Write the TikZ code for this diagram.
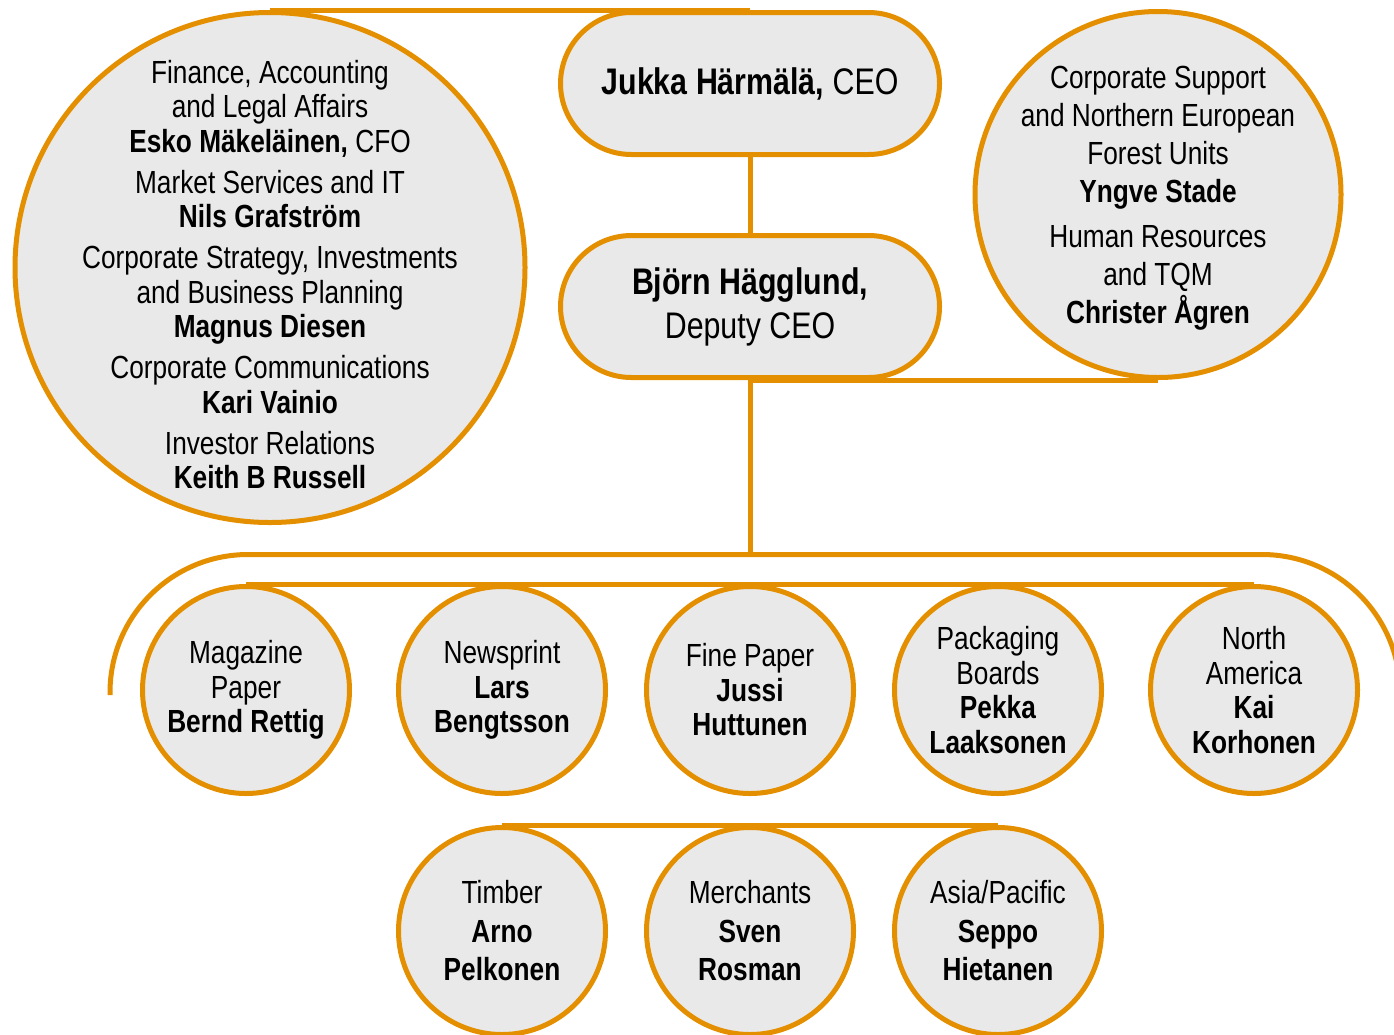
\documentclass[tikz,border=0pt]{standalone}
\usepackage{fontspec}
\setmainfont[FakeStretch=0.82]{Liberation Sans}
\usepackage{xcolor}
\usetikzlibrary{positioning,backgrounds,calc}
\definecolor{unitorange}{RGB}{228,143,0}
\definecolor{unitgray}{RGB}{233,233,233}

\begin{document}
\begin{tikzpicture}[x=1pt,y=-1pt,
    link/.style={draw=unitorange, line width=5pt},
    unit/.style={circle, draw=unitorange, fill=unitgray, line width=5pt,
        inner sep=0pt, align=center, minimum size=207pt,
        font=\fontsize{32}{34.5}\selectfont},
    unittext/.style={inner sep=0pt, align=center, font=\fontsize{32}{34.5}\selectfont},
    head/.style={rectangle, rounded corners=71pt, draw=unitorange, fill=unitgray,
        line width=5pt, inner sep=0pt, align=center, minimum width=379pt,
        minimum height=142pt, font=\fontsize{37}{44}\selectfont}]
    \useasboundingbox (0,0) rectangle (1394,1034);

    % management
    \node[head] (ceo) at (750,83.5) {\textbf{Jukka Härmälä,} CEO};
    \node[head] (deputy) at (750,306.5) {\textbf{Björn Hägglund,}\\Deputy CEO};

    % staff functions
    \node[unit, minimum size=510pt] (staff) at (270,267.5) {};
    \node[unittext] (stafftext) at ($(staff.center)+(0,7)$) {Finance, Accounting\\and Legal Affairs\\\textbf{Esko Mäkeläinen,} CFO\\[6.5pt]
        Market Services and IT\\\textbf{Nils Grafström}\\[6.5pt]
        Corporate Strategy, Investments\\and Business Planning\\\textbf{Magnus Diesen}\\[6.5pt]
        Corporate Communications\\\textbf{Kari Vainio}\\[6.5pt]
        Investor Relations\\\textbf{Keith B Russell}};
    \node[unit, minimum size=366pt] (support) at (1158,194.5) {};
    \node[unittext, font=\fontsize{32}{38}\selectfont] (supporttext) at ($(support.center)+(0,4)$)
        {Corporate Support\\and Northern European\\Forest Units\\\textbf{Yngve Stade}\\[7pt]
        Human Resources\\and TQM\\\textbf{Christer Ågren}};

    % business areas
    \foreach \name/\x/\descr in {mag/246/{Magazine\\Paper\\\textbf{Bernd Rettig}},
        news/502/{Newsprint\\\textbf{Lars}\\\textbf{Bengtsson}},
        fine/750/{Fine Paper\\\textbf{Jussi}\\\textbf{Huttunen}},
        pack/998/{Packaging\\Boards\\\textbf{Pekka}\\\textbf{Laaksonen}},
        na/1254/{North\\America\\\textbf{Kai}\\\textbf{Korhonen}}}
    \node[unit] (\name) at (\x,690) {\descr};

    \foreach \name/\x/\descr in {timber/502/{Timber\\\textbf{Arno}\\\textbf{Pelkonen}},
        merch/750/{Merchants\\\textbf{Sven}\\\textbf{Rosman}},
        asia/998/{Asia/Pacific\\\textbf{Seppo}\\\textbf{Hietanen}}}
    \node[unit, font=\fontsize{32}{38.5}\selectfont] (\name) at (\x,931) {\descr};

    % connectors
    \begin{scope}[on background layer]
        \draw[link] (staff.north) -- (ceo.north);
        \draw[link] (ceo.south) -- (deputy.north);
        \draw[link] (deputy.south) -- (support.south);
        \coordinate (hub) at ($(deputy.south)+(0,174.5)$);
        \draw[link] (deputy.south) -- (hub);
        \draw[link, rounded corners=138pt] ($(mag.center)+(-136,5)$) |- (hub)
            -| ($(na.center)+(146,5)$);
        \draw[link] (mag.north) -- (na.north);
        \draw[link] (timber.north) -- (asia.north);
    \end{scope}
\end{tikzpicture}
\end{document}
